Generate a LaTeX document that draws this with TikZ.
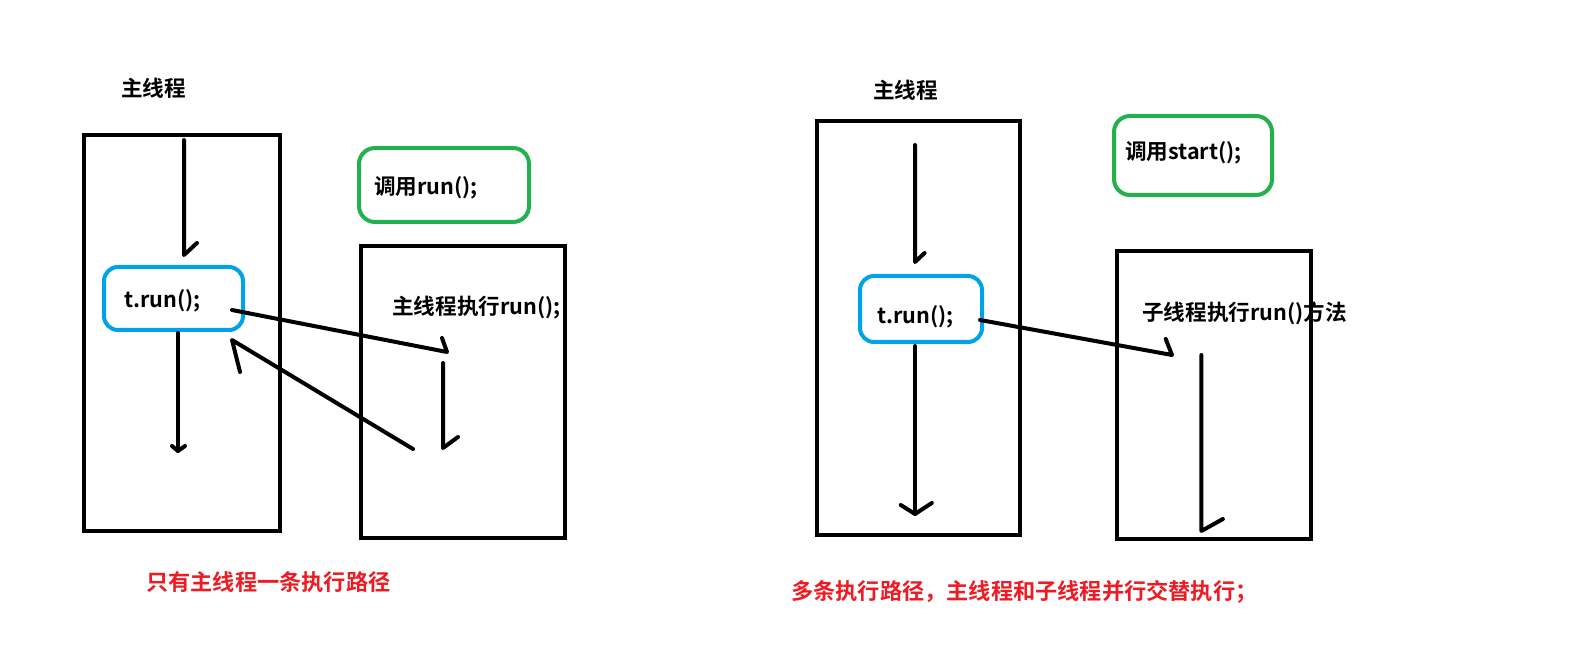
\documentclass[tikz,border=0pt]{standalone}
\usepackage{fontspec}
\setmainfont{Noto Sans CJK SC Bold}
\definecolor{paintblue}{HTML}{00A2E8}
\definecolor{paintgreen}{HTML}{22B14C}
\definecolor{paintred}{HTML}{ED1C24}
\begin{document}
\begin{tikzpicture}[x=1pt,y=-1pt,
  threadbox/.style={draw=black,line width=4pt,inner sep=0pt,rectangle},
  bluebox/.style={draw=paintblue,line width=4pt,rounded corners=14pt,inner sep=0pt,rectangle},
  greenbox/.style={draw=paintgreen,line width=4pt,rounded corners=16pt,inner sep=0pt,rectangle},
  lbl/.style={font=\fontsize{21.6}{25}\selectfont,anchor=west,inner sep=0pt,text=black},
  note/.style={lbl,font=\fontsize{22.2}{26}\selectfont,text=paintred},
  flow/.style={draw=black,line width=4pt,line cap=round,line join=round}]
\useasboundingbox (0,0) rectangle (1591,668);
\fill[white] (0,0) rectangle (1591,668);

% ---------- left diagram ----------
\node[lbl] (titleL) at (121,88) {主线程};
\node[threadbox,minimum width=196pt,minimum height=396pt] (mainL) at (182,333) {};
\node[bluebox,minimum width=139pt,minimum height=63pt] (callL) at (173.5,298.5) {};
\node[lbl] (truneL) at (124,301) {t.run();};
\node[greenbox,minimum width=170pt,minimum height=74pt] (noteL) at (444,185) {};
\node[lbl] (noteLtxt) at (374,188) {调用run();};
\node[threadbox,minimum width=204pt,minimum height=292pt] (subL) at (463,392) {};
\node[lbl] (subLtxt) at (392,308) {主线程执行run();};
\node[note] (resL) at (146,582) {只有主线程一条执行路径};

\coordinate (l1a) at (184,140); \coordinate (l1b) at (184,255); \coordinate (l1c) at (197,243);
\coordinate (l2a) at (178,333); \coordinate (l2b) at (178,451);
\coordinate (l2l) at (172,446); \coordinate (l2r) at (185,446);
\coordinate (l3a) at (232,310); \coordinate (l3b) at (447,352); \coordinate (l3c) at (442,338);
\coordinate (l4a) at (443,363); \coordinate (l4b) at (443,448); \coordinate (l4c) at (458,437);
\coordinate (l5a) at (413,449); \coordinate (l5b) at (232,340); \coordinate (l5c) at (240,372);
\draw[flow] (l1a) -- (l1b) -- (l1c);
\draw[flow] (l2a) -- (l2b);
\draw[flow] (l2l) -- (l2b) -- (l2r);
\draw[flow] (l3a) -- (l3b) -- (l3c);
\draw[flow] (l4a) -- (l4b) -- (l4c);
\draw[flow] (l5a) -- (l5b) -- (l5c);

% ---------- right diagram ----------
\node[lbl] (titleR) at (873,90) {主线程};
\node[threadbox,minimum width=203pt,minimum height=414pt] (mainR) at (918.5,328) {};
\node[bluebox,minimum width=122pt,minimum height=66pt] (callR) at (921,309) {};
\node[lbl] (truneR) at (877,317) {t.run();};
\node[greenbox,minimum width=158pt,minimum height=79pt] (noteR) at (1193,155.5) {};
\node[lbl] (noteRtxt) at (1125,153) {调用start();};
\node[lbl] (subRtxt) at (1142,313) {子线程执行run()方法};
\node[threadbox,minimum width=194pt,minimum height=288pt] (subR) at (1214,395) {};
\node[note] (resR) at (791,592) {多条执行路径，主线程和子线程并行交替执行；};

\coordinate (r1a) at (915,145); \coordinate (r1b) at (915,262); \coordinate (r1c) at (924.6,253);
\coordinate (r2a) at (915,346); \coordinate (r2b) at (915,514);
\coordinate (r2l) at (900.7,505); \coordinate (r2r) at (931.8,503);
\coordinate (r3a) at (980,320); \coordinate (r3b) at (1172,355); \coordinate (r3c) at (1165.7,339);
\coordinate (r4a) at (1201.4,355); \coordinate (r4b) at (1201.4,531); \coordinate (r4c) at (1222.9,519);
\draw[flow] (r1a) -- (r1b) -- (r1c);
\draw[flow] (r2a) -- (r2b);
\draw[flow] (r2l) -- (r2b) -- (r2r);
\draw[flow] (r3a) -- (r3b) -- (r3c);
\draw[flow] (r4a) -- (r4b) -- (r4c);
\end{tikzpicture}
\end{document}
